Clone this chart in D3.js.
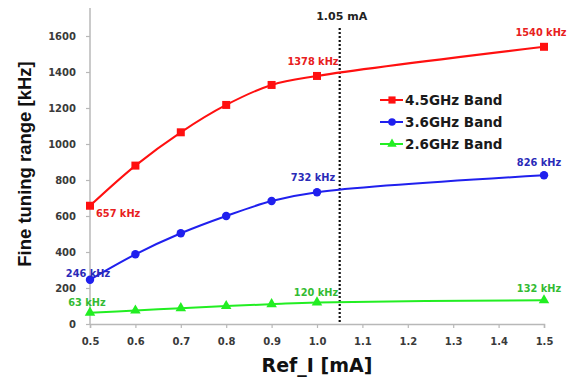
<!DOCTYPE html>
<html><head><meta charset="utf-8">
<script src="https://cdn.jsdelivr.net/npm/d3@7"></script>
<style>
body{margin:0;background:#fff;}
svg{display:block;}
text{font-family:"DejaVu Sans",Verdana,sans-serif;font-weight:bold;}
</style></head>
<body>
<svg id="c" width="580" height="379"></svg>
<script>
const xValues = [0.5, 0.6, 0.7, 0.8, 0.9, 1.0, 1.5];
const band45 = [657, 880, 1065, 1217, 1328, 1378, 1540];
const band36 = [246, 387, 504, 600, 683, 732, 826];
const band26 = [63, 75, 88, 100, 110, 120, 132];
const seriesNames = ["4.5GHz Band", "3.6GHz Band", "2.6GHz Band"];
const seriesColors = ["#ff1010", "#2020ee", "#22ee22"];
const labelColors = ["#e82020", "#2a2ab8", "#33bb33"];
const yTicks = [0, 200, 400, 600, 800, 1000, 1200, 1400, 1600];
const xTicks = [0.5, 0.6, 0.7, 0.8, 0.9, 1.0, 1.1, 1.2, 1.3, 1.4, 1.5];
const markerLine = 1.05;
const markerLabel = "1.05 mA";
const xTitle = "Ref_I [mA]";
const yTitle = "Fine tuning range [kHz]";

const svg = d3.select("#c");
const x = d3.scaleLinear().domain([0.5, 1.5]).range([90, 544]);
const y = d3.scaleLinear().domain([0, 1600]).range([324, 36]);
const yTop = 8;

// axes
const axisCol = "#b8b8b8";
const gx = svg.append("g").attr("transform", "translate(0,324)")
  .call(d3.axisBottom(x).tickValues(xTicks).tickFormat(d3.format(".1f")).tickSize(4).tickPadding(10));
gx.select(".domain").attr("stroke", axisCol).attr("stroke-width", 1.5);
gx.selectAll(".tick line").attr("stroke", axisCol).attr("stroke-width", 1.2);
gx.selectAll(".tick text").attr("fill", "#3a3a3a").style("font-size", "10px");

const gy = svg.append("g").attr("transform", "translate(90,0)")
  .call(d3.axisLeft(y).tickValues(yTicks).tickFormat(d3.format("d")).tickSize(4).tickPadding(10));
gy.select(".domain").remove();
gy.append("line").attr("x1", 0).attr("x2", 0).attr("y1", 324).attr("y2", yTop)
  .attr("stroke", axisCol).attr("stroke-width", 1.5);
gy.selectAll(".tick line").attr("stroke", axisCol).attr("stroke-width", 1.2);
gy.selectAll(".tick text").attr("fill", "#3a3a3a").style("font-size", "10px");

// titles
svg.append("text").attr("x", 317).attr("y", 372).attr("text-anchor", "middle")
  .attr("fill", "#111").style("font-size", "19px").text(xTitle);
svg.append("text").attr("transform", "translate(31,164) rotate(-90)").attr("text-anchor", "middle")
  .attr("fill", "#111").style("font-family", "'Liberation Sans',Arial,sans-serif")
  .style("font-size", "18.5px").text(yTitle);

// vertical dotted marker
svg.append("line").attr("x1", x(markerLine)).attr("x2", x(markerLine))
  .attr("y1", 28).attr("y2", 324).attr("stroke", "#111").attr("stroke-width", 2.2)
  .attr("stroke-dasharray", "2,2");
svg.append("text").attr("x", x(markerLine) + 2).attr("y", 20).attr("text-anchor", "middle")
  .attr("fill", "#222").style("font-size", "11px").text(markerLabel);

// series
const allSeries = [band45, band36, band26];
const line = d3.line().x((d, i) => x(xValues[i])).y(d => y(d)).curve(d3.curveCatmullRom.alpha(0.5));
const sym = [d3.symbolSquare, d3.symbolCircle, d3.symbolTriangle];
const symSize = [64, 56, 48];

allSeries.forEach((vals, si) => {
  svg.append("path").datum(vals).attr("d", line).attr("fill", "none")
    .attr("stroke", seriesColors[si]).attr("stroke-width", 2);
  svg.selectAll(null).data(vals).enter().append("path")
    .attr("transform", (d, i) => `translate(${x(xValues[i])},${y(d)})`)
    .attr("d", d3.symbol().type(sym[si]).size(symSize[si]))
    .attr("fill", seriesColors[si]);
});

// data labels: [series, index, dx, dy, anchor]
const labelSpec = [
  [0, 0, 6, 11, "start"], [0, 5, -4, -11, "middle"], [0, 6, -3, -11, "middle"],
  [1, 0, -2, -3, "middle"], [1, 5, -4, -11, "middle"], [1, 6, -5, -9, "middle"],
  [2, 0, -3, -7, "middle"],
  [2, 5, -1, -6, "middle"], [2, 6, -5, -8, "middle"]
];
labelSpec.forEach(([si, i, dx, dy, anc]) => {
  const v = allSeries[si][i];
  svg.append("text").attr("x", x(xValues[i]) + dx).attr("y", y(v) + dy)
    .attr("text-anchor", anc).attr("fill", labelColors[si]).style("font-size", "9.8px")
    .text(v + " kHz");
});

// legend
const lg = svg.append("g");
seriesNames.forEach((name, si) => {
  const yy = 100 + si * 22;
  lg.append("line").attr("x1", 380).attr("x2", 403).attr("y1", yy).attr("y2", yy)
    .attr("stroke", seriesColors[si]).attr("stroke-width", 2);
  lg.append("path").attr("transform", `translate(392,${yy})`)
    .attr("d", d3.symbol().type(sym[si]).size(symSize[si] * 0.8)).attr("fill", seriesColors[si]);
  lg.append("text").attr("x", 405).attr("y", yy + 5).attr("fill", "#1a1a1a")
    .style("font-size", "13.5px").text(name);
});
</script>
</body></html>
